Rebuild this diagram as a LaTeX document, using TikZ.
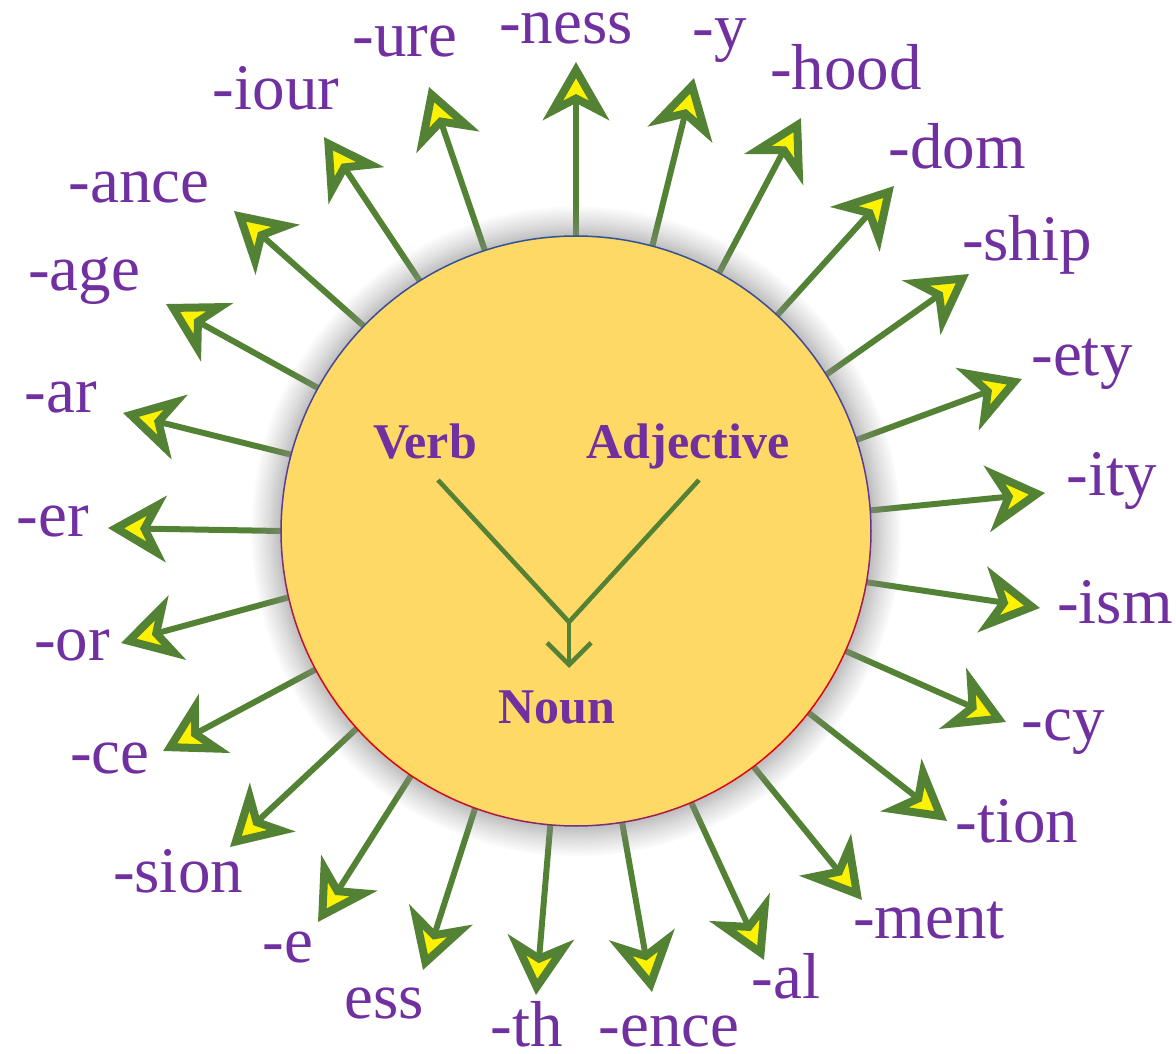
\documentclass[tikz,border=0pt]{standalone}
\usepackage{fontspec}
\setmainfont{Liberation Serif}
\usepackage{tikz}
\usetikzlibrary{arrows.meta, fadings}

\definecolor{raygreen}{RGB}{84,130,53}
\definecolor{sunfill}{RGB}{255,217,102}
\definecolor{suffixpurple}{RGB}{112,48,160}
\definecolor{rimblue}{RGB}{47,85,151}
\definecolor{rimpurple}{RGB}{100,55,150}
\definecolor{rimred}{RGB}{235,0,0}

% soft edge for the shadow round the sun (white = opaque, black = clear)
\pgfdeclareradialshading{haloshade}{\pgfpointorigin}{color(0bp)=(white); color(22.7bp)=(white); color(23.6bp)=(white!55!black); color(25bp)=(black)}
\pgfdeclarefading{halofade}{\pgfuseshading{haloshade}}

\tikzset{
  ray/.style={draw=raygreen, line width=6pt,
    -{Stealth[length=58pt, width=66pt, inset=17pt, fill=yellow, line width=8pt]}},
  suffix/.style={text=suffixpurple, font=\fontsize{65}{70}\selectfont, inner sep=0pt, anchor=base},
  wordclass/.style={text=suffixpurple, font=\bfseries\fontsize{50}{56}\selectfont, inner sep=0pt, anchor=base},
  branch/.style={draw=raygreen, line width=4.6pt}
}

\begin{document}
\begin{tikzpicture}[x=1pt, y=-1pt]
\useasboundingbox (0,0) rectangle (1176,1054);

% the sun, only for its anchors here
\node[circle, minimum size=590pt, inner sep=0pt, outer sep=0pt] (sun) at (576,531) {};

% rays and suffixes, clockwise from the top
\foreach \ang/\tx/\ty/\lx/\ly/\txt [count=\i] in {
    90/576/62/566/44/-ness,
    75.3/694/78/720/49/-y,
    61.5/801/118/846/90/-hood,
    47.3/894/186/957/168/-dom,
    32.9/969/274/1027/260/-ship,
    18.8/1022/379/1082/375/-ety,
    4.3/1045/493/1112/495/-ity,
    350.5/1040/608/1115/623/-ism,
    336.4/1006/722/1063/740/-cy,
    322/947/821/1017/842/-tion,
    307.6/862/900/929/938/-ment,
    293/764/960/786/998/-al,
    279.5/652/992/669/1046/-ence,
    265/536/995/527/1046/-th,
    250.8/423/970/384/1018/ess,
    236.4/318/922/288/962/-e,
    222.4/230/847/178/892/-sion,
    208.1/163/751/110/773/-ce,
    193.8/121/643/72/660/-or,
    180/108/528/53/536/-er,
    165.5/123/413/61/412/-ar,
    151.2/166/304/84/290/-age,
    136.8/234/211/139/202/-ance,
    122.5/324/137/276/110/-iour,
    108/429/87/405/57/-ure} {
  \coordinate (tip\i) at (\tx,\ty);
  \draw[ray] (sun.\ang) -- (tip\i);
  \node[suffix] (lab\i) at (\lx,\ly) {\txt};
}

% shadow, then the disc on top of it
\fill[black!45, fill opacity=0.55, path fading=halofade, fit fading=true] (sun.center) circle[radius=325pt];
\fill[sunfill] (sun.center) circle[radius=295pt];

% rim: blue on top, red low on both sides
\foreach \a in {0,2,...,358} {
  \pgfmathtruncatemacro{\b}{\a+2}
  \ifnum\a<180
    \pgfmathsetmacro{\mix}{100*sin(\a)}
    \colorlet{rimcol}{rimblue!\mix!rimpurple}
  \else
    \pgfmathsetmacro{\mix}{100*abs(sin(2*(\a-180)))}
    \colorlet{rimcol}{rimred!\mix!rimpurple}
  \fi
  \draw[rimcol, line width=1.5pt, line cap=round] (sun.\a) -- (sun.\b);
}

% verb and adjective both give a noun
\node[wordclass] (verb) at (425,458) {Verb};
\node[wordclass] (adj) at (688,458) {Adjective};
\node[wordclass] (noun) at (557,723) {Noun};
\coordinate (vfoot) at (438,480);
\coordinate (afoot) at (699,480);
\coordinate (join) at (569,622);
\coordinate (nhead) at (569,668);
\draw[branch] (vfoot) -- (join) -- (afoot);
\draw[branch, -{Straight Barb[length=22pt, width=44pt, line width=4.6pt]}] (join) -- (nhead);
\end{tikzpicture}
\end{document}
